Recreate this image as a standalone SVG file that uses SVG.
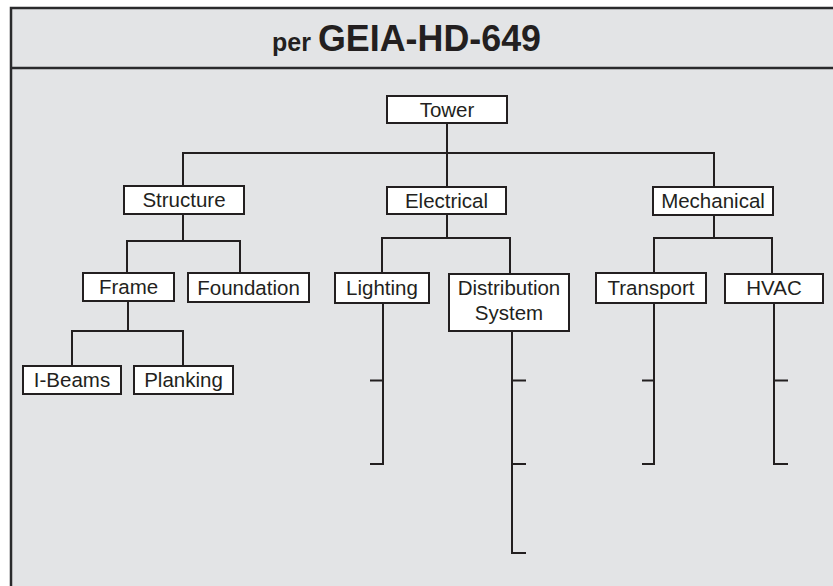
<svg xmlns="http://www.w3.org/2000/svg" width="833" height="586" viewBox="0 0 833 586">
  <style>
    .frame { fill: #e3e4e6; stroke: #2a2a2c; stroke-width: 2.5; }
    .box { fill: #ffffff; stroke: #231f20; stroke-width: 2; }
    .lbl { font-family: "Liberation Sans", Arial, sans-serif; font-size: 20.5px; fill: #231f20; text-anchor: middle; }
    .ttl { font-family: "Liberation Sans", Arial, sans-serif; font-weight: bold; fill: #231f20; }
    .wire { fill: none; stroke: #231f20; stroke-width: 2; }
  </style>

  <rect x="0" y="0" width="833" height="586" fill="#ffffff"/>

  <!-- outer frame and title band -->
  <g id="frame">
    <rect class="frame" x="11" y="8" width="830" height="590"/>
    <line x1="11" y1="68" x2="840" y2="68" stroke="#2a2a2c" stroke-width="2.5"/>
    <text class="ttl" x="272" y="51" font-size="25">per</text>
    <text class="ttl" x="318" y="51" font-size="36" textLength="223" lengthAdjust="spacingAndGlyphs">GEIA-HD-649</text>
  </g>

  <!-- connectors -->
  <g id="connectors" class="wire">
    <path d="M447,123 V187 M183,186 V153 H714 V187"/>
    <path d="M183,214 V241 M127,273 V241 H240 V273"/>
    <path d="M128,301 V331 M72,366 V331 H183 V366"/>
    <path d="M447,214 V238 M382,273 V238 H510 V274"/>
    <path d="M714,215 V238 M654,273 V238 H772 V274"/>
    <path d="M383,303 V464 H370 M370,380.5 H383"/>
    <path d="M512,331 V553 H526 M512,380.5 H526 M512,464 H526"/>
    <path d="M654,303 V464 H642 M642,380.5 H654"/>
    <path d="M774,303 V464 H788 M774,380.5 H788"/>
  </g>

  <g id="tower">
    <rect class="box" x="387" y="96" width="120" height="27"/>
    <text class="lbl" x="447" y="117">Tower</text>
  </g>
  <g id="structure">
    <rect class="box" x="124" y="186" width="120" height="28"/>
    <text class="lbl" x="184" y="207">Structure</text>
  </g>
  <g id="electrical">
    <rect class="box" x="387" y="187" width="119" height="27"/>
    <text class="lbl" x="446.5" y="208">Electrical</text>
  </g>
  <g id="mechanical">
    <rect class="box" x="653" y="187" width="120" height="28"/>
    <text class="lbl" x="713" y="208">Mechanical</text>
  </g>
  <g id="frame-node">
    <rect class="box" x="83" y="273" width="91" height="28"/>
    <text class="lbl" x="128.5" y="294">Frame</text>
  </g>
  <g id="foundation">
    <rect class="box" x="188" y="273" width="121" height="29"/>
    <text class="lbl" x="248.5" y="295">Foundation</text>
  </g>
  <g id="i-beams">
    <rect class="box" x="23" y="366" width="98" height="28"/>
    <text class="lbl" x="72" y="387">I-Beams</text>
  </g>
  <g id="planking">
    <rect class="box" x="134" y="366" width="99" height="28"/>
    <text class="lbl" x="183.5" y="387">Planking</text>
  </g>
  <g id="lighting">
    <rect class="box" x="335" y="273" width="94" height="30"/>
    <text class="lbl" x="382" y="295">Lighting</text>
  </g>
  <g id="distribution-system">
    <rect class="box" x="449" y="274" width="120" height="57"/>
    <text class="lbl" x="509" y="295">Distribution</text>
    <text class="lbl" x="509" y="320">System</text>
  </g>
  <g id="transport">
    <rect class="box" x="596" y="273" width="110" height="30"/>
    <text class="lbl" x="651" y="295">Transport</text>
  </g>
  <g id="hvac">
    <rect class="box" x="725" y="274" width="98" height="29"/>
    <text class="lbl" x="774" y="295">HVAC</text>
  </g>
</svg>
